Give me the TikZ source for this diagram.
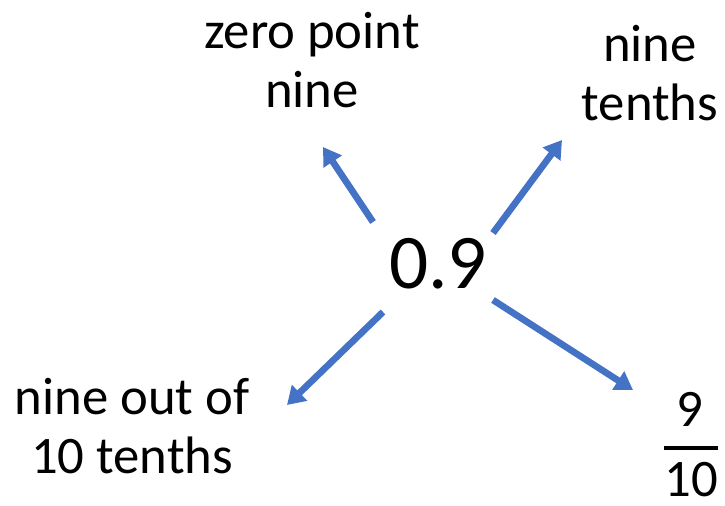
\documentclass[tikz,border=0pt]{standalone}
\usepackage{fontspec}
\setmainfont{Carlito}
\usetikzlibrary{arrows.meta}
\definecolor{arrowblue}{HTML}{4472C4}

\begin{document}
\begin{tikzpicture}[x=0.02cm,y=-0.02cm,>={Triangle[length=10pt,width=12pt]},
	label/.style={font=\fontsize{30}{34}\selectfont,align=center,inner sep=0pt},
	pointer/.style={draw=arrowblue,line width=3.8pt,->,arrowblue}]

%Fix the size of the page
	\useasboundingbox (0,0) rectangle (725,505);

%The number in the middle
	\node[label,font=\fontsize{44}{50}\selectfont,anchor=base] (num) at (438,288) {0.9};

%The four ways to say it
	\node[label] (zero) at (312,60) {zero point\\nine};
	\node[label] (tenths) at (650,73) {nine\\tenths};
	\node[label] (outof) at (132,426) {nine out of\\10 tenths};

%The fraction nine over ten
	\node[label,anchor=base] (frac-top) at (690,426) {9};
	\node[label,anchor=base] (frac-bot) at (691,496) {10};
	\draw[line width=2.3pt] (frac-bot.west |- 0,448) -- (frac-bot.east |- 0,448);

%Start and end points of the arrows
	\coordinate (zero-s) at (373,222);
	\coordinate (zero-e) at (323,147);
	\coordinate (tenths-s) at (493,233);
	\coordinate (tenths-e) at (562,140);
	\coordinate (outof-s) at (383,312);
	\coordinate (outof-e) at (287,405);
	\coordinate (frac-s) at (493,300);
	\coordinate (frac-e) at (633,390);

%The foreach command draws an arrow from 0.9 out to each way of saying it
	\foreach \name in {zero,tenths,outof,frac}
		{
		\draw[pointer] (\name-s) -- (\name-e);
		}

\end{tikzpicture}
\end{document}
